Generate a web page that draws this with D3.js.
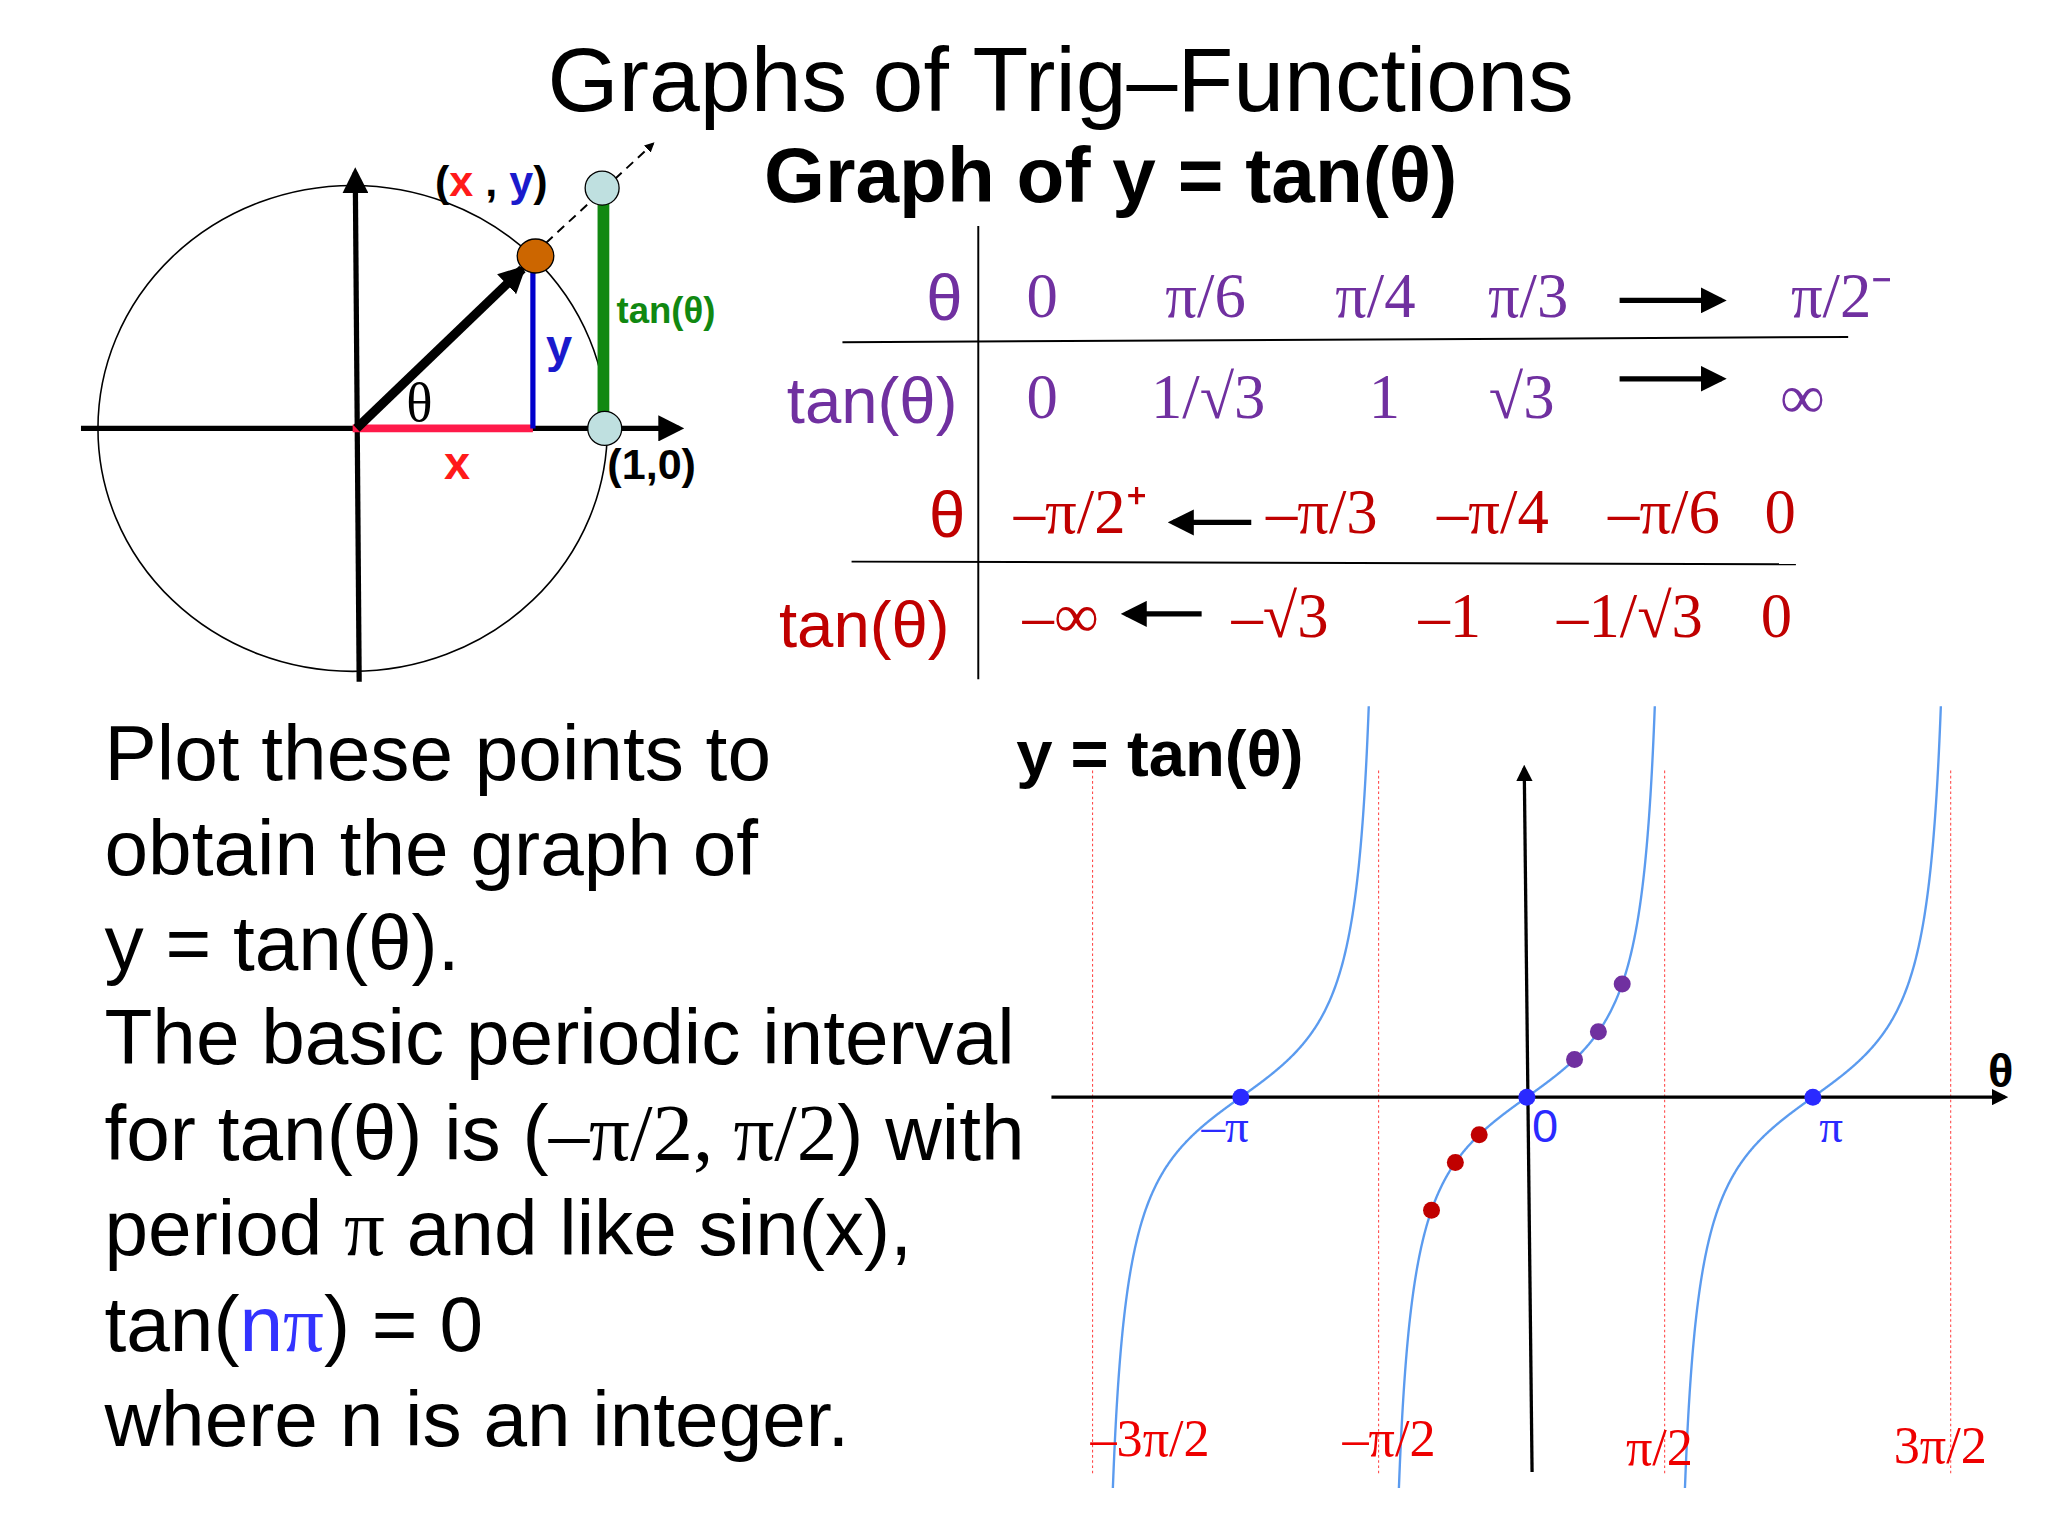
<!DOCTYPE html>
<html><head><meta charset="utf-8">
<script src="https://cdn.jsdelivr.net/npm/d3@7"></script>
<style>body{margin:0;background:#fff}</style>
</head><body>
<svg id="c" width="2048" height="1536" viewBox="0 0 1568 1176"></svg>
<script>
const PI = Math.PI;
// table rows
const posThetaLabels = ['0', 'π/6', 'π/4', 'π/3', 'π/2⁻'];
const posTanLabels = ['0', '1/√3', '1', '√3', '∞'];
const negThetaLabels = ['–π/2⁺', '–π/3', '–π/4', '–π/6', '0'];
const negTanLabels = ['–∞', '–√3', '–1', '–1/√3', '0'];
// plotted points
const posPoints = [{t: PI / 6, v: 0.577}, {t: PI / 4, v: 1}, {t: PI / 3, v: 1.732}];
const negPoints = [{t: -PI / 6, v: -0.577}, {t: -PI / 4, v: -1}, {t: -PI / 3, v: -1.732}];
const zeroPoints = [{t: -PI, v: 0}, {t: 0, v: 0}, {t: PI, v: 0}];
const zeroLabels = ['–π', '0', 'π'];
const asymptotes = [-3 * PI / 2, -PI / 2, PI / 2, 3 * PI / 2];
const asymLabels = ['–3π/2', '–π/2', 'π/2', '3π/2'];
const textLines = [
  'Plot these points to', 'obtain the graph of', 'y = tan(θ).', 'The basic periodic interval',
  null, null, null, 'where n is an integer.'
];

const svg = d3.select('#c');
const sans = 'Arial, "Liberation Sans", sans-serif';
const serif = '"Times New Roman", "Liberation Serif", serif';
const purple = '#7030a0', dred = '#c00000';

const defs = svg.append('defs');
defs.append('marker').attr('id', 'ah').attr('viewBox', '0 0 10 10')
  .attr('refX', 8).attr('refY', 5).attr('markerWidth', 5).attr('markerHeight', 5)
  .attr('orient', 'auto').append('path').attr('d', 'M0,0L10,5L0,10z');
defs.append('marker').attr('id', 'ah2').attr('viewBox', '0 0 10 10').attr('refX', 8).attr('refY', 5)
  .attr('markerWidth', 3).attr('markerHeight', 3).attr('orient', 'auto')
  .append('path').attr('d', 'M0,0L10,5L0,10z');

// titles
svg.append('text').attr('x', 812).attr('y', 85).attr('text-anchor', 'middle')
  .attr('font-family', sans).attr('font-size', 70).text('Graphs of Trig–Functions');
svg.append('text').attr('x', 585).attr('y', 155).attr('font-family', sans).attr('font-weight', 'bold')
  .attr('font-size', 60).text('Graph of y = tan(θ)');

// unit circle
const uc = svg.append('g');
uc.append('ellipse').attr('cx', 270).attr('cy', 328).attr('rx', 195).attr('ry', 186)
  .attr('fill', 'none').attr('stroke', '#000').attr('stroke-width', 1.2);
uc.append('line').attr('x1', 62).attr('y1', 328).attr('x2', 520).attr('y2', 328)
  .attr('stroke', '#000').attr('stroke-width', 4).attr('marker-end', 'url(#ah)');
uc.append('line').attr('x1', 275).attr('y1', 522).attr('x2', 272).attr('y2', 132)
  .attr('stroke', '#000').attr('stroke-width', 4).attr('marker-end', 'url(#ah)');
uc.append('line').attr('x1', 270).attr('y1', 328).attr('x2', 408).attr('y2', 328)
  .attr('stroke', '#ff1a4a').attr('stroke-width', 6);
uc.append('line').attr('x1', 408).attr('y1', 205).attr('x2', 408).attr('y2', 328)
  .attr('stroke', '#0000cc').attr('stroke-width', 4);
uc.append('line').attr('x1', 273).attr('y1', 328).attr('x2', 400).attr('y2', 206)
  .attr('stroke', '#000').attr('stroke-width', 7).attr('marker-end', 'url(#ah2)');
uc.append('line').attr('x1', 418).attr('y1', 186).attr('x2', 500).attr('y2', 110)
  .attr('stroke', '#000').attr('stroke-width', 1.5).attr('stroke-dasharray', '7,5').attr('marker-end', 'url(#ah)');
uc.append('line').attr('x1', 462).attr('y1', 155).attr('x2', 462).attr('y2', 328)
  .attr('stroke', '#118811').attr('stroke-width', 9);
uc.append('ellipse').attr('cx', 410).attr('cy', 196).attr('rx', 14).attr('ry', 13)
  .attr('fill', '#cc6600').attr('stroke', '#000');
[[461, 144], [463, 328]].forEach(p => uc.append('ellipse').attr('cx', p[0]).attr('cy', p[1])
  .attr('rx', 13).attr('ry', 13).attr('fill', '#bfe0e0').attr('stroke', '#000'));
const xy = uc.append('text').attr('x', 333).attr('y', 150).attr('font-family', sans).attr('font-weight', 'bold').attr('font-size', 33);
xy.append('tspan').text('(');
xy.append('tspan').attr('fill', '#ff1a1a').text('x');
xy.append('tspan').text(' , ');
xy.append('tspan').attr('fill', '#1a1acc').text('y');
xy.append('tspan').text(')');
uc.append('text').attr('x', 472).attr('y', 247).attr('font-family', sans).attr('font-weight', 'bold')
  .attr('font-size', 28).attr('fill', '#118811').text('tan(θ)');
uc.append('text').attr('x', 418).attr('y', 277).attr('font-family', sans).attr('font-weight', 'bold')
  .attr('font-size', 36).attr('fill', '#1a1acc').text('y');
uc.append('text').attr('x', 311).attr('y', 322).attr('font-family', serif).attr('font-size', 42).text('θ');
uc.append('text').attr('x', 340).attr('y', 367).attr('font-family', sans).attr('font-weight', 'bold')
  .attr('font-size', 36).attr('fill', '#ff1a1a').text('x');
uc.append('text').attr('x', 465).attr('y', 367).attr('font-family', sans).attr('font-weight', 'bold')
  .attr('font-size', 33).text('(1,0)');

// table
const tb = svg.append('g');
tb.append('line').attr('x1', 749).attr('y1', 173).attr('x2', 749).attr('y2', 520).attr('stroke', '#000').attr('stroke-width', 1.5);
tb.append('line').attr('x1', 645).attr('y1', 262).attr('x2', 1415).attr('y2', 258).attr('stroke', '#000').attr('stroke-width', 1.5);
tb.append('line').attr('x1', 652).attr('y1', 430).attr('x2', 1375).attr('y2', 432).attr('stroke', '#000').attr('stroke-width', 1.5);
const row = (labels, xs, y, col) => tb.selectAll(null).data(labels).enter().append('text')
  .attr('x', (d, i) => xs[i]).attr('y', y).attr('text-anchor', 'middle')
  .attr('font-family', serif).attr('font-size', 48).attr('fill', col).text(d => d);
const head = (t, x, y, col, f) => tb.append('text').attr('x', x).attr('y', y).attr('text-anchor', 'end')
  .attr('font-family', f).attr('font-size', 50).attr('fill', col).text(t);
const arrow = (x1, x2, y) => tb.append('line').attr('x1', x1).attr('y1', y).attr('x2', x2).attr('y2', y)
  .attr('stroke', '#000').attr('stroke-width', 4).attr('marker-end', 'url(#ah)');
head('θ', 737, 245, purple, sans);
head('tan(θ)', 733, 324, purple, sans);
head('θ', 739, 411, dred, sans);
head('tan(θ)', 727, 495, dred, sans);
row(posThetaLabels, [798, 923, 1053, 1170, 1410], 243, purple);
row(posTanLabels, [798, 925, 1060, 1165, 1380], 320, purple);
row(negThetaLabels, [827, 1012, 1143, 1274, 1363], 408, dred);
row(negTanLabels, [812, 980, 1110, 1248, 1360], 488, dred);
arrow(1240, 1318, 230); arrow(1240, 1318, 290);
arrow(958, 898, 400); arrow(920, 862, 470);

// left text
const tx = svg.append('g').attr('font-family', sans).attr('font-size', 60);
const lineY = [597, 670, 743, 815, 888, 961, 1034, 1107];
textLines.forEach((t, i) => { if (t) tx.append('text').attr('x', 80).attr('y', lineY[i]).text(t); });
let l = tx.append('text').attr('x', 80).attr('y', lineY[4]);
l.append('tspan').text('for tan(θ) is (');
l.append('tspan').attr('font-family', serif).attr('font-size', 62).text('–π/2, π/2');
l.append('tspan').text(') with');
l = tx.append('text').attr('x', 80).attr('y', lineY[5]);
l.append('tspan').text('period ');
l.append('tspan').attr('font-family', serif).attr('font-size', 62).text('π');
l.append('tspan').text(' and like sin(x),');
l = tx.append('text').attr('x', 80).attr('y', lineY[6]);
l.append('tspan').text('tan(');
l.append('tspan').attr('fill', '#3333ff').text('n');
l.append('tspan').attr('fill', '#3333ff').attr('font-family', serif).attr('font-size', 62).text('π');
l.append('tspan').text(') = 0');

// graph
const x = d3.scaleLinear().domain([-PI, PI]).range([950, 1388]);
const y = d3.scaleLinear().domain([-1, 1]).range([890, 790]);
const g = svg.append('g');
g.selectAll('.asym').data(asymptotes).enter().append('line')
  .attr('x1', d => x(d) - 4).attr('x2', d => x(d) - 4).attr('y1', 590).attr('y2', 1130)
  .attr('stroke', '#ff4444').attr('stroke-width', 0.8).attr('stroke-dasharray', '2,2');
const line = d3.line().x(d => x(d)).y(d => y(Math.tan(d)));
[-PI, 0, PI].forEach(c => {
  const lo = c - PI / 2, hi = c + PI / 2;
  const ts = d3.range(0, 601).map(i => lo + (hi - lo) * (0.003 + 0.994 * i / 600))
    .filter(t => y(Math.tan(t)) > 540 && y(Math.tan(t)) < 1145);
  g.append('path').attr('d', line(ts)).attr('fill', 'none').attr('stroke', '#5b9bef').attr('stroke-width', 1.8);
});
g.append('line').attr('x1', 805).attr('y1', y(0)).attr('x2', 1535).attr('y2', y(0))
  .attr('stroke', '#000').attr('stroke-width', 2.5).attr('marker-end', 'url(#ah)');
g.append('line').attr('x1', x(0) + 4).attr('y1', 1127).attr('x2', x(0) - 2).attr('y2', 588)
  .attr('stroke', '#000').attr('stroke-width', 2.5).attr('marker-end', 'url(#ah)');
const dots = (data, col) => g.selectAll(null).data(data).enter().append('circle')
  .attr('cx', d => x(d.t)).attr('cy', d => y(d.v)).attr('r', 6.5).attr('fill', col);
dots(posPoints, purple); dots(negPoints, dred); dots(zeroPoints, '#2a2aff');
g.selectAll(null).data(zeroPoints).enter().append('text')
  .attr('x', (d, i) => x(d.t) + [-12, 14, 14][i]).attr('y', y(0) + 34).attr('text-anchor', 'middle')
  .attr('font-family', (d, i) => i === 1 ? sans : serif).attr('font-size', 36).attr('fill', '#2a2aff')
  .text((d, i) => zeroLabels[i]);
g.selectAll(null).data(asymptotes).enter().append('text')
  .attr('x', (d, i) => x(d) + [40, 4, -8, -12][i]).attr('y', (d, i) => [1115, 1115, 1122, 1120][i])
  .attr('text-anchor', 'middle').attr('font-family', serif).attr('font-size', 40).attr('fill', '#ee0000')
  .text((d, i) => asymLabels[i]);
g.append('text').attr('x', 778).attr('y', 594).attr('font-family', sans).attr('font-weight', 'bold')
  .attr('font-size', 50).text('y = tan(θ)');
g.append('text').attr('x', 1522).attr('y', 832).attr('font-family', sans).attr('font-weight', 'bold')
  .attr('font-size', 36).text('θ');
</script>
</body></html>
